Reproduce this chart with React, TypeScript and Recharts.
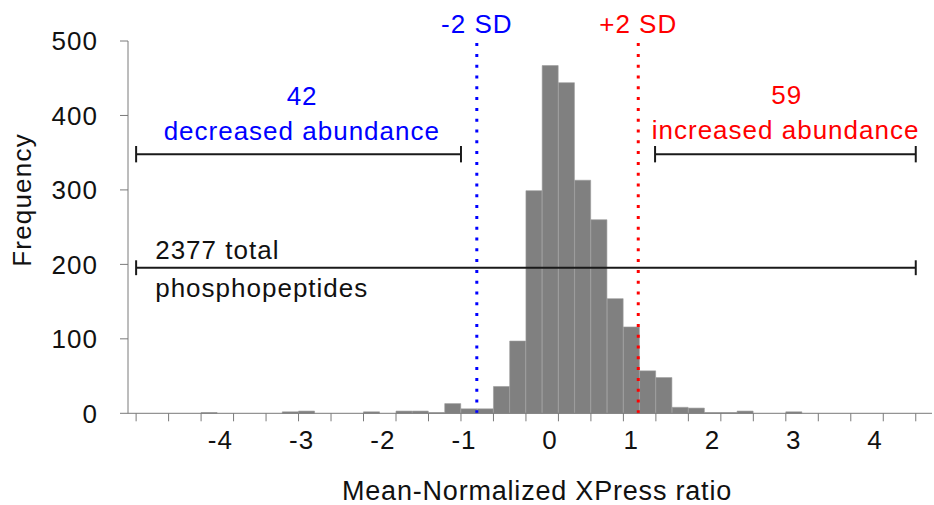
import { Bar, ComposedChart, ReferenceDot, ReferenceLine, XAxis, YAxis } from "recharts";

// histogram bins (center of each 0.2-wide bin) and their counts
const binCenters = [
  -4.2, -3.2, -3.0, -2.2, -1.8, -1.6, -1.4, -1.2, -1.0, -0.8, -0.6, -0.4, -0.2, 0,
  0.2, 0.4, 0.6, 0.8, 1.0, 1.2, 1.4, 1.6, 1.8, 2.0, 2.2, 2.4, 3.0,
];
const binCounts = [
  1, 2, 3, 2, 3, 3, 1, 13, 6, 6, 36, 97, 299, 467,
  444, 313, 260, 154, 116, 57, 48, 8, 7, 1, 1, 3, 2,
];

// tick marks sit on bin edges, labels on whole numbers
const edgeTicks = [
  -5.1, -4.7, -4.3, -3.9, -3.5, -3.1, -2.7, -2.3, -1.9, -1.5, -1.1, -0.7, -0.3,
  0.1, 0.5, 0.9, 1.3, 1.7, 2.1, 2.5, 2.9, 3.3, 3.7, 4.1, 4.5,
];
const ratioLabels = [-4, -3, -2, -1, 0, 1, 2, 3, 4];
const freqTicks = [0, 100, 200, 300, 400, 500];

// +/- 2 SD cut-offs
const sdLines = [
  { x: -0.905, label: "-2 SD", color: "#0000ff" },
  { x: 1.083, label: "+2 SD", color: "#ff0000" },
];

// brackets: [from, to, level, cap half-height]
const brackets = [
  { from: -5.1, to: -1.1, y: 348, cap: 11 },
  { from: 1.29, to: 4.5, y: 348, cap: 11 },
  { from: -5.1, to: 4.5, y: 195.5, cap: 10 },
];

const notes = [
  { x: -3.056, y: 413.4, text: "42", color: "#0000ff", anchor: "middle" },
  { x: -3.06, y: 367, text: "decreased abundance", color: "#0000ff", anchor: "middle" },
  { x: 2.912, y: 415.4, text: "59", color: "#ff0000", anchor: "middle" },
  { x: 2.897, y: 368.4, text: "increased abundance", color: "#ff0000", anchor: "middle" },
  { x: -4.865, y: 206.8, text: "2377 total", color: "#111", anchor: "start" },
  { x: -4.865, y: 156.6, text: "phosphopeptides", color: "#111", anchor: "start" },
];

const data = binCenters.map((x, i) => ({ x, count: binCounts[i] }));

const FONT = "'Liberation Sans', Arial, sans-serif";
const AXIS_GREY = "#7a7a7a";
const DOMAIN: [number, number] = [-5.2, 4.7];

function noteLabel(text: string, color: string, anchor: string) {
  return (props: any) => {
    const vb = props.viewBox || {};
    return (
      <text
        x={vb.x + (vb.width || 0) / 2}
        y={vb.y + (vb.height || 0) / 2}
        fill={color}
        textAnchor={anchor as any}
        fontSize={26}
        letterSpacing={1}
        fontFamily={FONT}
      >
        {text}
      </text>
    );
  };
}

// digit centred on the value, minus sign hanging to the left
function RatioTick(props: any) {
  const { x, y, payload } = props;
  return (
    <text
      x={x + 7.5}
      y={y}
      dy="0.71em"
      textAnchor="end"
      fill="#111"
      fontSize={26}
      letterSpacing={1}
      fontFamily={FONT}
    >
      {payload.value}
    </text>
  );
}

const NoTickText = () => <g />;

export default function App() {
  return (
    <div style={{ position: "absolute", left: 0, top: 0, fontFamily: FONT, background: "#fff" }}>
      <ComposedChart
        width={934}
        height={505}
        data={data}
        margin={{ top: 41, right: 2, bottom: 0, left: 0 }}
        barCategoryGap={0}
        barGap={0}
      >
        <XAxis
          xAxisId={0}
          dataKey="x"
          type="number"
          domain={DOMAIN}
          ticks={edgeTicks}
          tick={<NoTickText />}
          height={8}
          tickSize={8}
          stroke={AXIS_GREY}
          allowDataOverflow
        />
        <XAxis
          xAxisId="lab"
          dataKey="x"
          type="number"
          domain={DOMAIN}
          ticks={ratioLabels}
          axisLine={false}
          tickLine={false}
          tickSize={8}
          tickMargin={1}
          height={83.7}
          tick={<RatioTick />}
          allowDataOverflow
          label={{
            value: "Mean-Normalized XPress ratio",
            position: "insideBottom",
            offset: 5,
            dx: 7,
            fill: "#111",
            fontSize: 27,
            letterSpacing: 0.8,
          }}
        />
        <YAxis
          domain={[0, 500]}
          ticks={freqTicks}
          width={128}
          tickSize={8}
          tickMargin={22}
          stroke={AXIS_GREY}
          tick={{ fill: "#111", fontSize: 26, letterSpacing: 1 }}
          label={{
            content: () => (
              <text
                transform="translate(31,200) rotate(-90)"
                textAnchor="middle"
                fill="#111"
                fontSize={26}
                letterSpacing={1.2}
                fontFamily={FONT}
              >
                Frequency
              </text>
            ),
          }}
        />
        <Bar
          dataKey="count"
          xAxisId={0}
          fill="#808080"
          stroke="#9a9a9a"
          strokeWidth={0.6}
          isAnimationActive={false}
        />
        {sdLines.map((s) => (
          <ReferenceLine
            key={s.label}
            xAxisId={0}
            x={s.x}
            stroke={s.color}
            strokeWidth={3}
            strokeDasharray="3 7.8"
            label={{ value: s.label, position: "top", offset: 8, fill: s.color, fontSize: 26, letterSpacing: 1 }}
          />
        ))}
        {brackets.map((b, i) => [
          <ReferenceLine
            key={`h${i}`}
            xAxisId={0}
            segment={[{ x: b.from, y: b.y }, { x: b.to, y: b.y }]}
            stroke="#1a1a1a"
            strokeWidth={2}
          />,
          <ReferenceLine
            key={`l${i}`}
            xAxisId={0}
            segment={[{ x: b.from, y: b.y - b.cap }, { x: b.from, y: b.y + b.cap }]}
            stroke="#1a1a1a"
            strokeWidth={2}
          />,
          <ReferenceLine
            key={`r${i}`}
            xAxisId={0}
            segment={[{ x: b.to, y: b.y - b.cap }, { x: b.to, y: b.y + b.cap }]}
            stroke="#1a1a1a"
            strokeWidth={2}
          />,
        ])}
        {notes.map((n) => (
          <ReferenceDot
            key={n.text}
            xAxisId={0}
            x={n.x}
            y={n.y}
            r={0}
            fill="none"
            stroke="none"
            label={{ content: noteLabel(n.text, n.color, n.anchor) }}
          />
        ))}
      </ComposedChart>
    </div>
  );
}
